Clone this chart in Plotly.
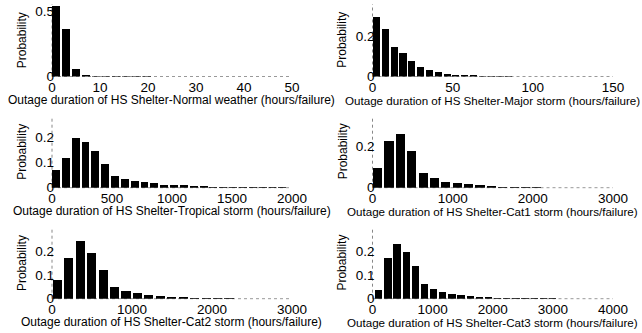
import plotly.graph_objects as go

# ---- data ----
titles = [
    "Outage duration of HS Shelter-Normal weather (hours/failure)",
    "Outage duration of HS Shelter-Major storm (hours/failure)",
    "Outage duration of HS Shelter-Tropical storm (hours/failure)",
    "Outage duration of HS Shelter-Cat1 storm (hours/failure)",
    "Outage duration of HS Shelter-Cat2 storm (hours/failure)",
    "Outage duration of HS Shelter-Cat3 storm (hours/failure)",
]
normal_prob = [0.543, 0.36, 0.057, 0.009, 0.003, 0.002, 0.001, 0.001, 0.001, 0.001]
major_prob = [0.293, 0.235, 0.145, 0.118, 0.077, 0.047, 0.030, 0.020, 0.012, 0.006,
              0.004, 0.003, 0.002, 0.002, 0.001, 0.001]
tropical_prob = [0.072, 0.118, 0.199, 0.183, 0.147, 0.096, 0.046, 0.035, 0.026, 0.022,
                 0.017, 0.012, 0.011, 0.009, 0.007, 0.004, 0.002, 0.002, 0.001, 0.001,
                 0.001, 0.001, 0.002, 0.001]
cat1_prob = [0.094, 0.230, 0.264, 0.181, 0.071, 0.046, 0.030, 0.022, 0.016, 0.011,
             0.007, 0.002, 0.002, 0.001, 0.001]
cat2_prob = [0.082, 0.172, 0.246, 0.196, 0.122, 0.052, 0.034, 0.025, 0.018, 0.014,
             0.011, 0.0085, 0.004, 0.002, 0.001, 0.001]
cat3_prob = [0.039, 0.175, 0.231, 0.197, 0.141, 0.062, 0.041, 0.031, 0.024, 0.018,
             0.014, 0.011, 0.0085, 0.006, 0.003, 0.001, 0.001, 0.001, 0.002, 0.001]
series = [normal_prob, major_prob, tropical_prob, cat1_prob, cat2_prob, cat3_prob]
first_center = [0.8, 2.2, 33, 57, 67, 97]
bin_width = [2.1, 5.5, 82, 142, 143, 152]
x_max = [50, 150, 2000, 3000, 3000, 4000]
x_ticks = [[0, 10, 20, 30, 40, 50], [0, 50, 100, 150], [0, 500, 1000, 1500, 2000],
           [0, 1000, 2000, 3000], [0, 1000, 2000, 3000], [0, 1000, 2000, 3000, 4000]]
y_max = [0.555, 0.36, 0.285, 0.35, 0.30, 0.30]
y_ticks = [[0, 0.5], [0, 0.2], [0, 0.1, 0.2], [0, 0.2], [0, 0.1, 0.2], [0, 0.1, 0.2]]

# ---- layout geometry ----
W, H = 642, 333
x_doms = [(52, 292), (372.5, 613)]
y_doms = [(4, 76.5), (116, 187.7), (227.5, 298.7)]
title_y = [100, 211.5, 322]
title_size = [12, 11.6]

FONT = "Liberation Sans, Arial, Helvetica, sans-serif"
fig = go.Figure()
annotations = []
shapes = []
for i in range(6):
    r, c = divmod(i, 2)
    n = "" if i == 0 else str(i + 1)
    xd = x_doms[c]
    yd = y_doms[r]
    xs = [first_center[i] + k * bin_width[i] for k in range(len(series[i]))]
    fig.add_trace(go.Bar(x=xs, y=series[i], width=0.8 * bin_width[i],
                         marker=dict(color="black", line=dict(width=0)),
                         xaxis="x" + n, yaxis="y" + n, showlegend=False))
    fig.layout["xaxis" + n] = dict(
        domain=[xd[0] / W, xd[1] / W], anchor="y" + n, range=[0, x_max[i]],
        tickvals=x_ticks[i], ticks="", showgrid=False, zeroline=False, showline=False,
        automargin=False, ticklabelstandoff=1,
        tickfont=dict(family=FONT, size=13.5, color="black"))
    fig.layout["yaxis" + n] = dict(
        domain=[1 - yd[1] / H, 1 - yd[0] / H], anchor="x" + n, range=[0, y_max[i]],
        tickvals=y_ticks[i], ticktext=[("0" if v == 0 else str(v)) for v in y_ticks[i]],
        ticks="", showgrid=False, zeroline=False, showline=False,
        automargin=False, ticklabelstandoff=-3,
        tickfont=dict(family=FONT, size=13.5, color="black"))
    shapes.append(dict(type="line", xref="x" + n + " domain", yref="y" + n + " domain",
                       x0=0, x1=0, y0=0, y1=1, line=dict(color="#888", width=1, dash="dot"),
                       layer="below"))
    shapes.append(dict(type="line", xref="x" + n + " domain", yref="y" + n + " domain",
                       x0=0, x1=1, y0=0, y1=0, line=dict(color="#999", width=1, dash="dot"),
                       layer="below"))
    annotations.append(dict(text=titles[i], xref="paper", yref="paper",
                            x=(xd[0] + xd[1]) / 2 / W, y=1 - title_y[r] / H,
                            xanchor="center", yanchor="middle", showarrow=False,
                            font=dict(family=FONT, size=title_size[c], color="black")))
    annotations.append(dict(text="Probability", xref="paper", yref="paper",
                            x=(xd[0] - 30) / W, y=1 - (yd[0] + yd[1]) / 2 / H,
                            xanchor="center", yanchor="middle", textangle=-90, showarrow=False,
                            font=dict(family=FONT, size=12, color="black")))

fig.update_layout(width=W, height=H, margin=dict(l=0, r=0, t=0, b=0, autoexpand=False),
                  paper_bgcolor="white", plot_bgcolor="white",
                  annotations=annotations, shapes=shapes, bargap=0)
fig.write_html("out.html", config={"displayModeBar": False},
               post_script="document.body.style.margin='0';")
